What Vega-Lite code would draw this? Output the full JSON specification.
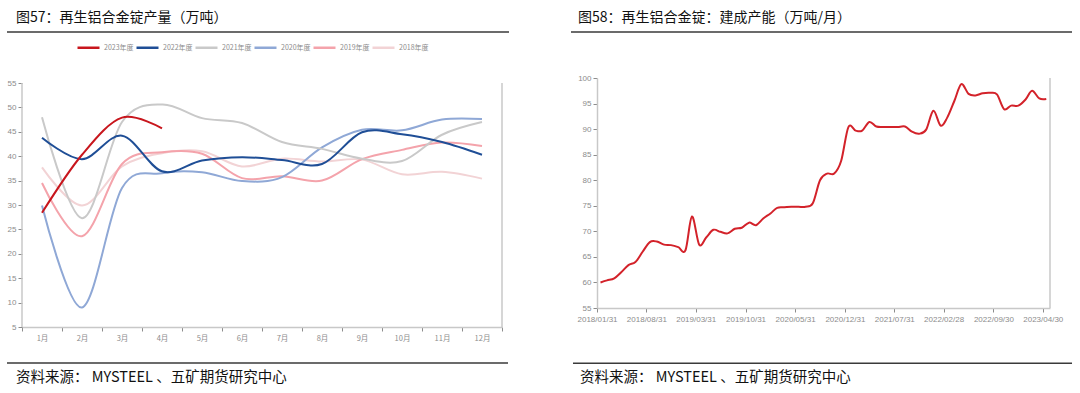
{
  "$schema": "https://vega.github.io/schema/vega-lite/v6.json",
  "background": "white",
  "padding": {"top": 10, "left": 6, "right": 0, "bottom": 0},
  "bounds": "flush",
  "spacing": 95,
  "resolve": {"scale": {"x": "independent", "y": "independent", "color": "independent"}},
  "config": {
    "view": {"stroke": null},
    "axis": {"labelFont": "Liberation Sans", "labelFontSize": 8, "labelColor": "#8c8c8c", "domainColor": "#c8c8c8", "domainWidth": 1.5, "tickColor": "#8c8c8c", "tickSize": 4, "grid": false, "title": null, "labelOverlap": false},
    "legend": {"labelFont": "Noto Sans CJK SC"}
  },
  "hconcat": [
    {
      "width": 480, "height": 249,
      "layer": [
        {
          "data": {"values": [
            {"month": "1月", "year": "2018年度", "value": 37.7},
            {"month": "2月", "year": "2018年度", "value": 29.9},
            {"month": "3月", "year": "2018年度", "value": 37.9},
            {"month": "4月", "year": "2018年度", "value": 40.6},
            {"month": "5月", "year": "2018年度", "value": 41.0},
            {"month": "6月", "year": "2018年度", "value": 37.9},
            {"month": "7月", "year": "2018年度", "value": 39.5},
            {"month": "8月", "year": "2018年度", "value": 38.9},
            {"month": "9月", "year": "2018年度", "value": 39.3},
            {"month": "10月", "year": "2018年度", "value": 36.3},
            {"month": "11月", "year": "2018年度", "value": 36.8},
            {"month": "12月", "year": "2018年度", "value": 35.4},
            {"month": "1月", "year": "2019年度", "value": 34.5},
            {"month": "2月", "year": "2019年度", "value": 23.6},
            {"month": "3月", "year": "2019年度", "value": 38.4},
            {"month": "4月", "year": "2019年度", "value": 40.8},
            {"month": "5月", "year": "2019年度", "value": 40.5},
            {"month": "6月", "year": "2019年度", "value": 35.5},
            {"month": "7月", "year": "2019年度", "value": 35.9},
            {"month": "8月", "year": "2019年度", "value": 35.0},
            {"month": "9月", "year": "2019年度", "value": 39.4},
            {"month": "10月", "year": "2019年度", "value": 41.3},
            {"month": "11月", "year": "2019年度", "value": 42.8},
            {"month": "12月", "year": "2019年度", "value": 42.1},
            {"month": "1月", "year": "2020年度", "value": 29.9},
            {"month": "2月", "year": "2020年度", "value": 9.0},
            {"month": "3月", "year": "2020年度", "value": 33.5},
            {"month": "4月", "year": "2020年度", "value": 36.5},
            {"month": "5月", "year": "2020年度", "value": 36.7},
            {"month": "6月", "year": "2020年度", "value": 34.9},
            {"month": "7月", "year": "2020年度", "value": 35.7},
            {"month": "8月", "year": "2020年度", "value": 41.8},
            {"month": "9月", "year": "2020年度", "value": 45.4},
            {"month": "10月", "year": "2020年度", "value": 45.3},
            {"month": "11月", "year": "2020年度", "value": 47.5},
            {"month": "12月", "year": "2020年度", "value": 47.6},
            {"month": "1月", "year": "2021年度", "value": 48.0},
            {"month": "2月", "year": "2021年度", "value": 27.3},
            {"month": "3月", "year": "2021年度", "value": 47.0},
            {"month": "4月", "year": "2021年度", "value": 50.6},
            {"month": "5月", "year": "2021年度", "value": 47.8},
            {"month": "6月", "year": "2021年度", "value": 46.8},
            {"month": "7月", "year": "2021年度", "value": 42.9},
            {"month": "8月", "year": "2021年度", "value": 41.5},
            {"month": "9月", "year": "2021年度", "value": 39.5},
            {"month": "10月", "year": "2021年度", "value": 39.0},
            {"month": "11月", "year": "2021年度", "value": 44.4},
            {"month": "12月", "year": "2021年度", "value": 47.0},
            {"month": "1月", "year": "2022年度", "value": 43.8},
            {"month": "2月", "year": "2022年度", "value": 39.4},
            {"month": "3月", "year": "2022年度", "value": 44.2},
            {"month": "4月", "year": "2022年度", "value": 36.9},
            {"month": "5月", "year": "2022年度", "value": 39.1},
            {"month": "6月", "year": "2022年度", "value": 39.8},
            {"month": "7月", "year": "2022年度", "value": 39.2},
            {"month": "8月", "year": "2022年度", "value": 38.4},
            {"month": "9月", "year": "2022年度", "value": 44.9},
            {"month": "10月", "year": "2022年度", "value": 44.5},
            {"month": "11月", "year": "2022年度", "value": 42.9},
            {"month": "12月", "year": "2022年度", "value": 40.3},
            {"month": "1月", "year": "2023年度", "value": 28.4},
            {"month": "2月", "year": "2023年度", "value": 40.3},
            {"month": "3月", "year": "2023年度", "value": 47.9},
            {"month": "4月", "year": "2023年度", "value": 45.7}
          ]},
          "mark": {"type": "line", "interpolate": "cardinal", "strokeWidth": 2},
          "encoding": {
            "x": {"field": "month", "type": "ordinal",
                  "scale": {"type": "band", "domain": ["1月","2月","3月","4月","5月","6月","7月","8月","9月","10月","11月","12月"], "paddingInner": 0, "paddingOuter": 0},
                  "axis": {"title": null, "tickBand": "extent", "labelAngle": 0, "labelFont": "Noto Sans CJK SC", "labelFontSize": 7.5, "labelPadding": 3}},
            "y": {"field": "value", "type": "quantitative",
                  "scale": {"domain": [5, 56.0246], "zero": false, "nice": false},
                  "axis": {"title": null, "domain": false, "labelOverlap": false, "tickCount": 20, "values": [5,10,15,20,25,30,35,40,45,50,55]}},
            "color": {"field": "year", "type": "nominal",
                      "scale": {"domain": ["2023年度","2022年度","2021年度","2020年度","2019年度","2018年度"], "range": ["#C8161D","#1F4E96","#C9C9C9","#8FA8D6","#F4A3AB","#F2D3D5"]},
                      "legend": {"orient": "none", "legendX": 54, "legendY": -43, "direction": "horizontal", "title": null, "symbolType": "stroke", "symbolSize": 484, "symbolStrokeWidth": 2.5, "labelFontSize": 7, "labelColor": "#8c8c8c", "columnPadding": -3, "labelOffset": 3}}
          }
        },
        {
          "data": {"values": [{"part": "axis-left"}]},
          "mark": {"type": "rule", "color": "#c8c8c8", "strokeWidth": 1.5},
          "encoding": {
            "x": {"datum": 0, "type": "quantitative", "scale": {"domain": [0, 1]}, "axis": null},
            "y": {"datum": 5, "type": "quantitative"},
            "y2": {"datum": 55}
          }
        },
        {
          "data": {"values": [{"part": "axis-right"}]},
          "mark": {"type": "rule", "color": "#c8c8c8", "strokeWidth": 1.5},
          "encoding": {
            "x": {"datum": 1, "type": "quantitative", "scale": {"domain": [0, 1]}, "axis": null},
            "y": {"datum": 5, "type": "quantitative"},
            "y2": {"datum": 55}
          }
        },
        {
          "data": {"values": [{"part": "header"}]},
          "mark": {"type": "rule", "color": "#3a3a3a", "strokeWidth": 1.5},
          "encoding": {
            "x": {"datum": -0.03125, "type": "quantitative", "scale": {"domain": [0, 1]}, "axis": null},
            "x2": {"datum": 1.0146},
            "y": {"datum": 65.45, "type": "quantitative"}
          }
        },
        {
          "data": {"values": [{"part": "footer"}]},
          "mark": {"type": "rule", "color": "#3a3a3a", "strokeWidth": 1.5},
          "encoding": {
            "x": {"datum": -0.03125, "type": "quantitative", "scale": {"domain": [0, 1]}, "axis": null},
            "x2": {"datum": 1.0125},
            "y": {"datum": -2.38, "type": "quantitative"}
          }
        },
        {
          "data": {"values": [{"part": "title"}]},
          "mark": {"type": "text", "align": "left", "baseline": "middle", "font": "Noto Sans CJK SC", "fontSize": 14, "color": "#111111", "text": "图57：再生铝合金锭产量（万吨）"},
          "encoding": {
            "x": {"datum": -0.0125, "type": "quantitative", "scale": {"domain": [0, 1]}, "axis": null},
            "y": {"datum": 68.32, "type": "quantitative"}
          }
        },
        {
          "data": {"values": [{"part": "source"}]},
          "mark": {"type": "text", "align": "left", "baseline": "middle", "font": "Noto Sans CJK SC", "fontSize": 14.5, "color": "#111111", "text": "资料来源： MYSTEEL 、五矿期货研究中心"},
          "encoding": {
            "x": {"datum": -0.0125, "type": "quantitative", "scale": {"domain": [0, 1]}, "axis": null},
            "y": {"datum": -5.45, "type": "quantitative"}
          }
        }
      ],
      "resolve": {"scale": {"x": "independent"}}
    },
    {
      "width": 453, "height": 230,
      "layer": [
        {
          "data": {"values": [
            {"date": "2018/02/15", "value": 60.0},
            {"date": "2018/03/15", "value": 60.4},
            {"date": "2018/04/15", "value": 60.8},
            {"date": "2018/05/15", "value": 62.0},
            {"date": "2018/06/15", "value": 63.4},
            {"date": "2018/07/15", "value": 64.0},
            {"date": "2018/08/15", "value": 66.0},
            {"date": "2018/09/15", "value": 67.9},
            {"date": "2018/10/15", "value": 68.0},
            {"date": "2018/11/15", "value": 67.4},
            {"date": "2018/12/15", "value": 67.3},
            {"date": "2019/01/15", "value": 66.9},
            {"date": "2019/02/15", "value": 66.3},
            {"date": "2019/03/15", "value": 72.9},
            {"date": "2019/04/15", "value": 67.4},
            {"date": "2019/05/15", "value": 68.8},
            {"date": "2019/06/15", "value": 70.3},
            {"date": "2019/07/15", "value": 69.9},
            {"date": "2019/08/15", "value": 69.6},
            {"date": "2019/09/15", "value": 70.5},
            {"date": "2019/10/15", "value": 70.7},
            {"date": "2019/11/15", "value": 71.7},
            {"date": "2019/12/15", "value": 71.2},
            {"date": "2020/01/15", "value": 72.5},
            {"date": "2020/02/15", "value": 73.5},
            {"date": "2020/03/15", "value": 74.6},
            {"date": "2020/04/15", "value": 74.7},
            {"date": "2020/05/15", "value": 74.8},
            {"date": "2020/06/15", "value": 74.8},
            {"date": "2020/07/15", "value": 74.8},
            {"date": "2020/08/15", "value": 75.5},
            {"date": "2020/09/15", "value": 80.0},
            {"date": "2020/10/15", "value": 81.3},
            {"date": "2020/11/15", "value": 81.3},
            {"date": "2020/12/15", "value": 83.8},
            {"date": "2021/01/15", "value": 90.4},
            {"date": "2021/02/15", "value": 89.7},
            {"date": "2021/03/15", "value": 89.7},
            {"date": "2021/04/15", "value": 91.4},
            {"date": "2021/05/15", "value": 90.5},
            {"date": "2021/06/15", "value": 90.4},
            {"date": "2021/07/15", "value": 90.4},
            {"date": "2021/08/15", "value": 90.4},
            {"date": "2021/09/15", "value": 90.5},
            {"date": "2021/10/15", "value": 89.5},
            {"date": "2021/11/15", "value": 89.1},
            {"date": "2021/12/15", "value": 89.9},
            {"date": "2022/01/15", "value": 93.6},
            {"date": "2022/02/15", "value": 90.7},
            {"date": "2022/03/15", "value": 92.2},
            {"date": "2022/04/15", "value": 95.5},
            {"date": "2022/05/15", "value": 98.8},
            {"date": "2022/06/15", "value": 96.9},
            {"date": "2022/07/15", "value": 96.6},
            {"date": "2022/08/15", "value": 97.0},
            {"date": "2022/09/15", "value": 97.1},
            {"date": "2022/10/15", "value": 96.8},
            {"date": "2022/11/15", "value": 93.9},
            {"date": "2022/12/15", "value": 94.6},
            {"date": "2023/01/15", "value": 94.6},
            {"date": "2023/02/15", "value": 95.8},
            {"date": "2023/03/15", "value": 97.5},
            {"date": "2023/04/15", "value": 96.0},
            {"date": "2023/05/15", "value": 95.9}
          ]},
          "mark": {"type": "line", "interpolate": "cardinal", "color": "#D3222A", "strokeWidth": 2},
          "encoding": {
            "x": {"field": "date", "type": "temporal",
                  "scale": {"domain": [{"year": 2018, "month": 1, "date": 31}, {"year": 2023, "month": 5, "date": 31}]},
                  "axis": {"title": null, "format": "%Y/%m/%d", "labelFlush": false, "labelOverlap": false, "labelPadding": 3,
                           "values": [{"year": 2018, "month": 1, "date": 31}, {"year": 2018, "month": 8, "date": 31}, {"year": 2019, "month": 3, "date": 31}, {"year": 2019, "month": 10, "date": 31}, {"year": 2020, "month": 5, "date": 31}, {"year": 2020, "month": 12, "date": 31}, {"year": 2021, "month": 7, "date": 31}, {"year": 2022, "month": 2, "date": 28}, {"year": 2022, "month": 9, "date": 30}, {"year": 2023, "month": 4, "date": 30}]}},
            "y": {"field": "value", "type": "quantitative",
                  "scale": {"domain": [55, 100], "zero": false, "nice": false},
                  "axis": {"title": null, "labelOverlap": false, "tickCount": 20, "values": [55,60,65,70,75,80,85,90,95,100]}}
          }
        },
        {
          "data": {"values": [{"part": "axis-right"}]},
          "mark": {"type": "rule", "color": "#c8c8c8", "strokeWidth": 1.5},
          "encoding": {
            "x": {"datum": 1, "type": "quantitative", "scale": {"domain": [0, 1]}, "axis": null},
            "y": {"datum": 55, "type": "quantitative"},
            "y2": {"datum": 100}
          }
        },
        {
          "data": {"values": [{"part": "header"}]},
          "mark": {"type": "rule", "color": "#3a3a3a", "strokeWidth": 1.5},
          "encoding": {
            "x": {"datum": -0.0574, "type": "quantitative", "scale": {"domain": [0, 1]}, "axis": null},
            "x2": {"datum": 1.0486},
            "y": {"datum": 109.02, "type": "quantitative"}
          }
        },
        {
          "data": {"values": [{"part": "footer"}]},
          "mark": {"type": "rule", "color": "#3a3a3a", "strokeWidth": 1.5},
          "encoding": {
            "x": {"datum": -0.053, "type": "quantitative", "scale": {"domain": [0, 1]}, "axis": null},
            "x2": {"datum": 1.0486},
            "y": {"datum": 44.21, "type": "quantitative"}
          }
        },
        {
          "data": {"values": [{"part": "title"}]},
          "mark": {"type": "text", "align": "left", "baseline": "middle", "font": "Noto Sans CJK SC", "fontSize": 14, "color": "#111111", "text": "图58：再生铝合金锭：建成产能（万吨/月）"},
          "encoding": {
            "x": {"datum": -0.0419, "type": "quantitative", "scale": {"domain": [0, 1]}, "axis": null},
            "y": {"datum": 111.77, "type": "quantitative"}
          }
        },
        {
          "data": {"values": [{"part": "source"}]},
          "mark": {"type": "text", "align": "left", "baseline": "middle", "font": "Noto Sans CJK SC", "fontSize": 14.5, "color": "#111111", "text": "资料来源： MYSTEEL 、五矿期货研究中心"},
          "encoding": {
            "x": {"datum": -0.0375, "type": "quantitative", "scale": {"domain": [0, 1]}, "axis": null},
            "y": {"datum": 41.27, "type": "quantitative"}
          }
        }
      ],
      "resolve": {"scale": {"x": "independent"}}
    }
  ]
}
